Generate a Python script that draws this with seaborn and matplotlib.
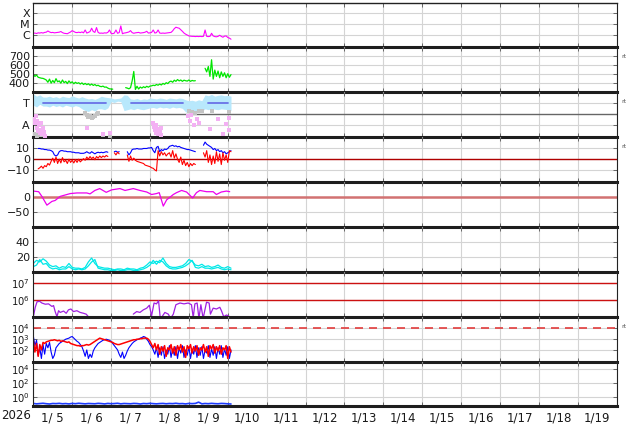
import numpy as np
import matplotlib
matplotlib.use("Agg")
import matplotlib.pyplot as plt
from matplotlib.ticker import NullLocator
import seaborn as sns

sns.set_style("white")
plt.rcParams['font.family'] = ['DejaVu Sans']
plt.rcParams['mathtext.fontset'] = 'dejavusans'

nan = np.nan

# ---- time axis (hours since 1/5 00:00) ----
year_label = "2026"
day_labels = ["1/ 5", "1/ 6", "1/ 7", "1/ 8", "1/ 9", "1/10", "1/11", "1/12",
              "1/13", "1/14", "1/15", "1/16", "1/17", "1/18", "1/19"]
hours = np.arange(123)
hours2 = np.arange(0, 123, 2)

# ---- X-ray flux, log10 W/m2 (hourly) ----
xray_log = [-5.82, -5.80, -5.84, -5.78, -5.80, -5.76, -5.80, -5.74, -5.72, -5.61,
            -5.70, -5.76, -5.74, -5.78, -5.76, -5.74, -5.72, -5.66, -5.76, -5.82,
            -5.84, -5.86, -5.78, -5.70, -5.58, -5.66, -5.74, -5.76, -5.72, -5.76,
            -5.70, -5.78, -5.52, -5.80, -5.74, -5.66, -5.36, -5.66, -5.74, -5.30,
            -5.74, -5.82, -5.80, -5.82, -5.78, -5.80, -5.74, -5.52, -5.82, -5.86,
            -5.80, -5.52, -5.82, -5.76, -5.15, -5.86, -5.80, -5.78, -5.74, -5.70,
            -5.58, -5.76, -5.82, -5.78, -5.76, -5.74, -5.80, -5.78, -5.76, -5.72,
            -5.64, -5.80, -5.78, -5.74, -5.52, -5.80, -5.76, -5.52, -5.80, -5.82,
            -5.80, -5.82, -5.80, -5.78, -5.76, -5.74, -5.60, -5.40, -5.27, -5.32,
            -5.36, -5.50, -5.64, -5.80, -5.90, -5.98, -6.06, -6.08, -6.10, -6.10,
            -6.12, -6.10, -6.12, -6.10, -6.12, -6.10, -5.52, -6.10, -6.12, -6.10,
            -5.82, -6.06, -6.12, -6.14, -6.10, -6.00, -6.10, -6.18, -6.08, -6.06,
            -6.20, -6.26, -6.36]

# ---- solar wind speed, km/s (hourly) ----
speed = [495, 470, 485, 460, 455, 450, 448, 440,
         430, 405, 440, 395, 425, 400, 445, 410,
         420, 395, 430, 400, 415, 390, 420, 398,
         410, 388, 405, 392, 400, 385, 398, 380,
         392, 378, 388, 372, 385, 370, 380, 366,
         372, 360, 356, 362, 350, 352, 340, 332,
         330, 328, nan, nan, nan, nan, nan, nan, nan, 345,
         340, 332, 345, 420, 525, 325, 360, 330,
         352, 340, 355, 345, 360, 350, 362,
         365, 372, 368, 380, 372, 385, 375, 392, 382, 400, 390, 410,
         418, 405, 428, 415, 435, 420, 430, 415, 428, 422, 418, 430, 415, 425, 420,
         422, nan, nan, nan, nan,
         nan, 560, 520, 580, 470, 655, 440, 540, 470, 530, 455, 520, 470, 510,
         455, 500, 460, 490]

# ---- IMF sector (T/A), 2-hourly band of raw points ----
sector_hi = [0.95, 0.90, 0.93, 0.88,
             0.88, 0.90, 0.87, 0.89, 0.86, 0.90, 0.88, 0.87, 0.91, 0.88, 0.86, 0.89,
             0.86, 0.84, 0.85, 0.83, 0.86,
             0.90, 0.88, 0.87,
             0.86, 0.84, 0.85, 0.86,
             0.93, 0.92,
             0.84, 0.83, 0.85, 0.82, 0.84, 0.83,
             0.86, 0.85, 0.84, 0.86, 0.85, 0.83, 0.86, 0.85, 0.84, 0.86, 0.85,
             0.82, 0.80, 0.81, 0.79, 0.82, 0.80,
             0.93, 0.91, 0.94, 0.90, 0.92, 0.93, 0.91, 0.92, 0.90]
sector_lo = [0.70, 0.66, 0.72, 0.68,
             0.68, 0.66, 0.70, 0.67, 0.69, 0.66, 0.70, 0.68, 0.66, 0.69, 0.67, 0.62,
             0.58, 0.56, 0.60, 0.57, 0.62,
             0.62, 0.60, 0.64,
             0.78, 0.76, 0.79, 0.78,
             0.58, 0.60,
             0.62, 0.60, 0.63, 0.61, 0.60, 0.62,
             0.64, 0.65, 0.63, 0.66, 0.64, 0.65, 0.63, 0.66, 0.64, 0.65, 0.63,
             0.55, 0.53, 0.56, 0.54, 0.55, 0.57,
             0.62, 0.60, 0.63, 0.61, 0.60, 0.62, 0.61, 0.60, 0.58]
toward_start = [6, 60.3, 108]
toward_end = [45, 92.5, 120]
pink_h = [0.5, 1, 1.5, 2, 2.5, 3, 3.5, 4, 4.5, 5, 5.5, 6, 6.5, 7, 33, 43, 47.4,
          74, 74.5, 75, 75.5, 76, 76.5, 77, 77.5, 78, 78.5, 79,
          95.5, 96.5, 97.5, 99, 101, 102.5, 109, 114, 117, 119, 120.5, 121]
pink_v = [0.40, 0.30, 0.45, 0.20, 0.35, 0.12, 0.25, 0.08, 0.30, 0.15, 0.05, 0.20, 0.10, 0.02,
          0.20, 0.06, 0.08,
          0.30, 0.22, 0.15, 0.26, 0.08, 0.18, 0.05, 0.12, 0.10, 0.04, 0.20,
          0.45, 0.35, 0.48, 0.25, 0.40, 0.30, 0.18, 0.40, 0.05, 0.28, 0.42, 0.15]
gray_h = [1, 2, 3.5, 5, 6, 32, 33, 34, 35, 36, 37, 38, 39, 40, 43, 47.4,
          96, 98, 100, 102, 104, 110, 121]
gray_v = [0.05, 0.02, 0.08, 0.03, 0.06, 0.52, 0.48, 0.44, 0.45, 0.42, 0.43, 0.47, 0.50,
          0.53, 0.04, 0.02, 0.58, 0.55, 0.52, 0.56, 0.57, 0.58, 0.55]

# ---- IMF Bt / Bz, nT (hourly) ----
bt = [nan, nan, nan, 10,
      10, 9.5, 9.5, 9, 9,
      8.5, 8.5, 8, 7, 4,
      3, 4, 7, 8,
      8, 7.5, 7.5, 7, 7, 7, 6.5, 6.5, 6, 6, 6, 5.5, 5.5,
      5.5, 6, 7, 6, 5.5, 7, 6, 5, 6, 6.5, 6, 6.5, 6, 6.5, 7, 6.5,
      nan, nan, nan,
      7, 7.5, 6.5, 7,
      nan, nan, nan, nan,
      7, 4, 6, 9, 9.5, 9.5, 10, 9.5, 9.5, 9.5, 10, 10, 10, 10.5, 10.5,
      11, 8, 6, 11, 12, 7,
      9, 8, 9.5, 9, 10, 12,
      12.5, 13, 12, 12.5, 11.5, 12, 11, 10.5, 10, 9.5, 9, 9, 8.5, 8, 7.5, 7,
      nan, nan, nan, nan,
      13, 16, 14, 13, 12, 11, 9, 10, 8, 9, 7, 8, 6, 7, 5, 6, 7, 8]
bz = [nan, nan, nan, -9,
      -8, -6.5, -8.5, -6, -7, -4, -5.5, -2,
      1, -3, 2, -4, 0, -3.5, 1.5, -2.5, -1, -4, 0, -3,
      -1, -3.5, -0.5, -3, 0, -2.5, -1,
      0.5, -1, 2, 0, 2.5, 0.5, 2, -0.5, 2.5, 1, 3, 1.5, 3, 2, 3.5, 2.5,
      nan, nan, nan,
      6, 4, 6.5, 5,
      nan, nan, nan, nan,
      4, -2, 3, -1, 1, -1, -2,
      -2.5, -3, -3.5, -4, -5.5, -6, -6.5, -7, -8, -8.5, -10, -11,
      8, 3, 7, 4, 6, 3, 5, 6,
      2, 8, 1, 5,
      0, -3, 2, -5, -1, -6, -3, -7, -4,
      -6, -4, -5,
      nan, nan, nan, nan,
      6, 2, 8, -3, 4, -5, 3, -4, 7, -2, 5, -5, 6, -1, 4, -3, 8, 7]

# ---- Dst, nT ----
dst_h = [0, 3.3, 5.3, 8.4, 11.5, 13.5, 16.6, 22.8, 26.9, 33,
         35, 38, 41, 45, 48.4, 53.5, 56.6, 61.7, 65.8, 70,
         73, 76, 77.7, 80.2, 82.3, 86.4, 88.4, 91.5, 94.6, 98.3,
         100.7, 102.8, 106.9, 111, 113, 116, 119.2, 121.2]
dst_nt = [18, 16, 1, -27, -15, -12, 1, 10, 12, 12,
          9, 20, 26, 14, 22, 26, 20, 26, 20, 15,
          7, 10, 13, -30, -10, 7, 13, 20, 15, -4,
          13, 20, 16, 16, 7, 15, 18, 16]

# ---- cyan index (2-hourly, two traces) ----
cyan_a = [12, 16, 14, 18, 15, 10, 8, 9, 6, 8,
          7, 12, 7, 6, 6, 5, 7, 14, 19, 12,
          8, 7, 6, 6, 5, 4, 5, 5, 4, 6,
          5, 5, 4, 6, 7, 10, 14, 12, 15, 13,
          19, 12, 8, 7, 7, 8, 9, 12, 17, 15,
          10, 9, 11, 8, 9, 7, 8, 10, 7, 6,
          8, 6]
cyan_b = [8, 10, 17, 11, 12, 7, 5, 6, 4, 5,
          5, 8, 5, 4, 5, 4, 5, 9, 14, 17,
          6, 5, 4, 4, 3, 3, 4, 3, 3, 4,
          4, 3, 3, 4, 5, 7, 10, 16, 11, 16,
          14, 9, 6, 5, 5, 6, 7, 9, 12, 16,
          7, 6, 8, 6, 6, 5, 6, 7, 5, 4,
          5, 4]

# ---- electron flux, log10 ----
elec_h = [0.2, 1.2, 2.3, 3.9, 5.3, 7.4, 9.4, 11.5, 12.5, 13.5,
          14.6, 15.6, 16.6, 18.7, 20.3, 21.7, 23.2, 24.8, 26.9, 28.9,
          31.0, 32.6, 34.0, 48, 61.7, 63.8, 65.8, 67.9, 70.0, 71.6,
          73.0, 74.5, 76.0, 77.3, 78.4, 79.8, 81.2, 83.3, 84.7, 86.4,
          88.0, 90.5, 93.0, 95.6, 97.6, 98.7, 99.7, 101.1, 102.2, 103.4,
          104.8, 106.9, 108.5, 109.3, 111.0, 113.0, 115.1, 116.1, 117.5, 119.2,
          121.2]
elec_log = [5.13, 5.6, 5.92, 5.95, 5.85, 5.78, 5.80, 5.65, 5.70, 5.35,
            5.05, 5.40, 5.30, 5.38, 5.25, 5.45, 5.50, 5.35, 5.40, 5.30,
            5.25, 5.20, 5.05, nan, 5.20, 5.35, 5.30, 5.45, 5.55, 5.72,
            5.10, 5.85, 5.80, 5.98, 4.9, 5.10, 5.30, 5.20, 4.95, 5.20,
            5.75, 5.85, 5.80, 5.85, 5.75, 5.0, 5.80, 5.85, 4.95, 5.75,
            4.95, 5.90, 5.85, 5.2, 5.55, 5.50, 5.60, 5.40, 5.05, 5.15,
            5.05]

# ---- proton / particle flux, log10 (hourly) ----
prot_blue = [3.3, 2.4, 2.9, 1.5, 2.2, 1.2, 2.5, 1.6,
             2.6, 2.2, 2.7,
             1.8, 1.2, 1.5, 2.2,
             2.4, 2.6, 2.7, 2.8, 2.9, 3.0, 3.05, 3.1, 3.2, 3.25,
             3.1, 2.95, 2.8, 2.7, 2.5, 2.3,
             1.9, 1.4, 2.0, 1.2, 1.6, 1.3, 1.9,
             2.2, 2.4, 2.6, 2.7, 2.8, 2.9, 2.95, 3.0, 2.95,
             2.9, 2.8, 2.6, 2.4, 2.2, 2.0,
             1.6, 1.3, 1.8, 1.2, 1.5, 1.9, 2.2,
             2.4, 2.6, 2.75, 2.85, 2.95, 3.0, 3.1, 3.15,
             3.25, 3.2, 3.0, 2.8,
             2.5, 2.3, 2.0, 1.6, 2.2,
             1.3, 2.2, 1.5, 2.3, 1.2, 2.0, 1.6, 2.4, 1.3, 2.1, 1.5, 2.3, 1.2, 2.2, 1.7, 2.4,
             1.3, 2.0, 1.5, 2.3, 1.2, 2.1, 1.6, 2.4, 1.3, 2.2, 1.5, 2.3, 1.2, 2.0, 1.7, 2.4,
             1.3, 2.1, 1.5, 2.3, 1.2, 2.2, 1.6, 2.4, 1.3, 2.1, 1.5, 2.3, 1.2, 2.0]
prot_red = [2.9, 1.8, 2.6, 1.4, 2.5, 2.0, 2.7, 2.6,
            2.75, 2.8, 2.85, 2.9, 2.9, 2.95, 2.9, 2.85, 2.9, 2.8, 2.85, 2.8, 2.75, 2.7,
            2.75, 2.6, 2.55, 2.5, 2.45, 2.4, 2.4, 2.35, 2.4,
            2.4, 2.45, 2.5, 2.45, 2.5, 2.6, 2.7, 2.8, 2.9, 3.0, 3.1, 3.05, 3.0, 2.95, 2.9, 2.85,
            2.8, 2.75, 2.7, 2.6, 2.55, 2.5, 2.5, 2.55, 2.6, 2.65, 2.7, 2.75, 2.8, 2.85, 2.9,
            2.95, 2.95,
            3.0, 3.0, 3.05, 3.05, 3.1, 3.1, 3.1, 3.0, 2.8, 2.5, 2.2, 2.6, 2.0,
            2.5, 1.6, 2.3, 1.9, 2.4, 1.4, 2.2, 2.0, 2.5, 1.7, 2.3, 1.5, 2.4, 2.0, 2.5, 1.8,
            2.3, 1.3, 2.4, 2.1, 2.5, 1.7, 2.3, 1.9, 2.4, 1.5, 2.2, 2.0, 2.5, 1.8, 2.3, 1.4,
            2.4, 2.1, 2.5, 1.7, 2.3, 1.9, 2.4, 1.6, 2.2, 2.0, 2.4, 1.2, 2.3, 1.8]

# ---- bottom flux, log10 (2-hourly) ----
low_flux = [-0.88, -0.94, -0.90, -0.86, -0.92, -0.96, -0.89, -0.91, -0.87, -0.93,
            -0.90, -0.95, -0.88, -0.92, -0.86, -0.90, -0.94, -0.89, -0.91, -0.93,
            -0.87, -0.90, -0.95, -0.88, -0.92, -0.90, -0.86, -0.94, -0.89, -0.91,
            -0.93, -0.88, -0.90, -0.96, -0.89, -0.92, -0.87, -0.91, -0.94, -0.90,
            -0.88, -0.93, -0.89, -0.91, -0.86, -0.92, -0.90, -0.95, -0.88, -0.91,
            -0.88, -0.70, -0.94, -0.89, -0.92, -0.87, -0.91, -0.93, -0.88, -0.90,
            -0.94, -0.96]


def line(ax, h, v, color, lw=0.8, **kw):
    h = np.asarray(h, float)
    v = np.asarray(v, float)
    ok = ~np.isnan(v)
    edges = np.flatnonzero(np.diff(np.r_[0, ok.astype(int), 0]))
    for a, b in zip(edges[::2], edges[1::2]):
        if b - a >= 2:
            sns.lineplot(x=h[a:b] / 24, y=v[a:b], ax=ax, color=color, lw=lw,
                         estimator=None, sort=False, **kw)


W, H = 634, 424
fig = plt.figure(figsize=(W / 100, H / 100), dpi=100)
bounds = [2.7, 46.7, 91.7, 136.7, 181.7, 226.7, 271.7, 316.7, 361.7, 405.7]
x0, x1 = 33.3, 616.7
axes = []
for i in range(9):
    t, b = bounds[i], bounds[i + 1]
    ax = fig.add_axes([x0 / W, 1 - b / H, (x1 - x0) / W, (b - t) / H])
    ax.patch.set_alpha(0)
    axes.append(ax)

ax1, ax2, ax3, ax4, ax5, ax6, ax7, ax8, ax9 = axes
for ax in (ax1, ax7, ax8, ax9):
    ax.set_yscale('log')

# panel 1: X-ray
line(ax1, hours, 10 ** np.array(xray_log), '#ff00ff', lw=0.8)
ax1.set_ylim(10 ** -7.04, 10 ** -3.04)
ax1.set_yticks([1e-6, 1e-5, 1e-4], ['C', 'M', 'X'])

# panel 2: solar wind speed
line(ax2, hours, speed, '#00e600', lw=0.9)
ax2.set_ylim(300, 800)
ax2.set_yticks([400, 500, 600, 700], ['400', '500', '600', '700'])

# panel 3: sector
ax3.axhline(0.5, color='#666666', lw=1.0, zorder=1)
ax3.fill_between(hours2 / 24, sector_lo, sector_hi, color='#b8e8fc', lw=0, zorder=2)
sns.scatterplot(x=np.array(gray_h) / 24, y=gray_v, ax=ax3, color='#c4c4c4', s=7,
                marker='s', linewidth=0, zorder=3)
sns.scatterplot(x=np.array(pink_h) / 24, y=pink_v, ax=ax3, color='#f3b0f3', s=7,
                marker='s', linewidth=0, zorder=3)
for s0, s1 in zip(toward_start, toward_end):
    sns.lineplot(x=[s0 / 24, s1 / 24], y=[0.75, 0.75], ax=ax3, color='#6a72e6', lw=1.3,
                 zorder=4)
ax3.set_ylim(0, 1)
ax3.set_yticks([0.25, 0.75], ['A', 'T'])

# panel 4: IMF
ax4.axhline(0, color='#b00000', lw=1.0, zorder=1)
line(ax4, hours, bt, '#0000ff', lw=0.8)
line(ax4, hours, bz, '#ff0000', lw=0.8)
ax4.set_ylim(-21, 21)
ax4.set_yticks([-10, 0, 10], ['\u221210', '0', '10'])

# panel 5: Dst
ax5.axhline(0, color='#d27272', lw=1.8, zorder=1)
line(ax5, dst_h, dst_nt, '#ee00ee', lw=0.9)
ax5.set_ylim(-96, 48)
ax5.set_yticks([-50, 0], ['\u221250', '0'])

# panel 6: cyan index
line(ax6, hours2, cyan_a, '#00e8e8', lw=0.9)
line(ax6, hours2, cyan_b, '#00e8e8', lw=0.9)
ax6.set_ylim(1.5, 59)
ax6.set_yticks([20, 40], ['20', '40'])

# panel 7: electrons
ax7.axhline(1e7, color='#cc1111', lw=1.0, zorder=1)
ax7.axhline(1e6, color='#cc1111', lw=1.0, zorder=1)
line(ax7, elec_h, 10 ** np.array(elec_log), '#a020e0', lw=0.9)
ax7.set_ylim(10 ** 5.05, 10 ** 7.68)
ax7.set_yticks([1e6, 1e7], [r'$10^{6}$', r'$10^{7}$'])

# panel 8: protons
ax8.axhline(1e4, color='#e23c3c', lw=1.2, dashes=(4.8, 3.6), zorder=1)
line(ax8, hours, 10 ** np.array(prot_blue), '#0000ff', lw=0.8)
line(ax8, hours, 10 ** np.array(prot_red), '#ff0000', lw=1.1)
ax8.set_ylim(10 ** 0.9, 10 ** 5.1)
ax8.set_yticks([1e2, 1e3, 1e4], [r'$10^{2}$', r'$10^{3}$', r'$10^{4}$'])

# panel 9: low flux
line(ax9, hours2, 10 ** np.array(low_flux), '#1e3cff', lw=1.2)
ax9.set_ylim(10 ** -1.2, 10 ** 5)
ax9.set_yticks([1e0, 1e2, 1e4], [r'$10^{0}$', r'$10^{2}$', r'$10^{4}$'])

for i, ax in enumerate(axes):
    ax.set_xlim(0, 15)
    ax.set_xticks(np.arange(0, 16))
    ax.yaxis.set_minor_locator(NullLocator())
    ax.set_xlabel('')
    ax.set_ylabel('')
    ax.set_axisbelow(True)
    ax.grid(True, which='major', color='#d4d4d4', lw=0.8)
    ax.tick_params(axis='both', which='major', direction='in', length=3, width=0.6,
                   color='#555555', labelsize=8, labelcolor='#1a1a1a', pad=2.5,
                   left=True, right=True, top=True, bottom=True)
    if i < 8:
        ax.tick_params(axis='x', labelbottom=False)
    for side in ('left', 'right'):
        ax.spines[side].set_color('#222222')
        ax.spines[side].set_linewidth(0.8)
    ax.spines['top'].set_visible(i == 0)
    ax.spines['top'].set_linewidth(1.0)
    ax.spines['top'].set_color('#222222')
    ax.spines['bottom'].set_color('#1e1e1e')
    ax.spines['bottom'].set_linewidth(2.2)

# stacked log labels sit close together, so a touch smaller there
for ax in (ax7, ax8, ax9):
    ax.tick_params(axis='y', labelsize=7.2)

ax9.set_xticks(np.arange(0, 16), [''] * 16)
ax9.set_xticks(np.arange(0.5, 15), day_labels, minor=True)
ax9.tick_params(axis='x', which='minor', length=0, labelsize=8.5, pad=4,
                labelcolor='#1a1a1a')

fig.text(16 / W, 1 - 415.7 / H, year_label, ha='center', va='center',
         fontsize=8.5, color='#1a1a1a')
for ypix in (57, 101.7, 146.7, 326.7):
    fig.text(621 / W, 1 - ypix / H, 'rt', ha='left', va='center', fontsize=4.5,
             color='#555555')

fig.savefig('out.png', dpi=100)
